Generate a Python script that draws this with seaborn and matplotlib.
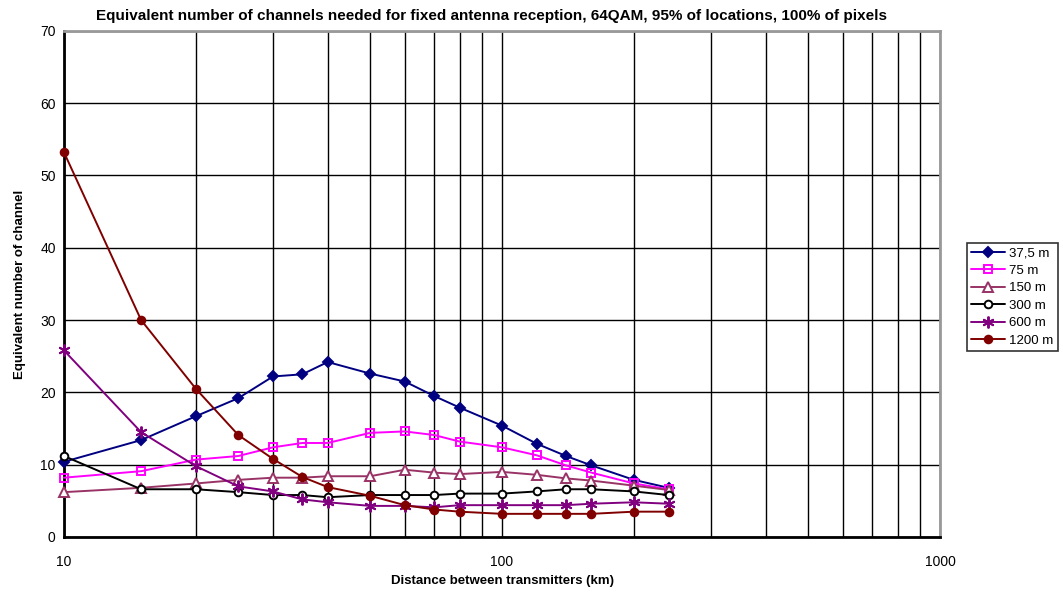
import pandas as pd
import matplotlib
matplotlib.use("Agg")
import matplotlib.pyplot as plt
import matplotlib.ticker as mticker
import seaborn as sns

# distance between transmitters (km)
distance = [10, 15, 20, 25, 30, 35, 40, 50, 60, 70, 80, 100, 120, 140, 160, 200, 240]

# equivalent number of channels, one list per antenna height
h37_5 = [10.4, 13.4, 16.7, 19.2, 22.2, 22.5, 24.2, 22.6, 21.5, 19.5, 17.9, 15.4, 12.9, 11.2, 9.9, 7.9, 6.8]
h75 = [8.2, 9.1, 10.7, 11.2, 12.4, 13.0, 13.0, 14.4, 14.6, 14.1, 13.2, 12.4, 11.3, 9.9, 8.9, 7.4, 6.6]
h150 = [6.2, 6.8, 7.4, 7.9, 8.2, 8.2, 8.4, 8.4, 9.3, 8.9, 8.7, 9.0, 8.6, 8.1, 7.8, 7.1, 6.5]
h300 = [11.2, 6.6, 6.6, 6.2, 5.8, 5.8, 5.5, 5.8, 5.8, 5.8, 6.0, 6.0, 6.3, 6.6, 6.6, 6.3, 5.8]
h600 = [25.8, 14.5, 9.8, 7.0, 6.3, 5.2, 4.8, 4.3, 4.3, 4.1, 4.4, 4.4, 4.4, 4.4, 4.6, 4.8, 4.6]
h1200 = [53.2, 30.0, 20.5, 14.1, 10.8, 8.3, 6.9, 5.7, 4.4, 3.8, 3.5, 3.2, 3.2, 3.2, 3.2, 3.5, 3.5]

labels = ["37,5 m", "75 m", "150 m", "300 m", "600 m", "1200 m"]
values = [h37_5, h75, h150, h300, h600, h1200]

df = pd.DataFrame({lab: v for lab, v in zip(labels, values)})
df["Distance"] = distance
long_df = df.melt(id_vars="Distance", var_name="Height", value_name="Channels")

sns.set_style("white")
plt.rcParams["font.family"] = ["Liberation Sans", "DejaVu Sans"]
plt.rcParams["text.color"] = "black"
plt.rcParams["axes.labelcolor"] = "black"
plt.rcParams["xtick.color"] = "black"
plt.rcParams["ytick.color"] = "black"

# colour, marker, face colour, size
styles = {
    "37,5 m": ("#000080", "D", "#000080", 5.5),
    "75 m": ("#ff00ff", "s", "none", 5.5),
    "150 m": ("#993366", "^", "white", 6.5),
    "300 m": ("#000000", "o", "white", 5.5),
    "600 m": ("#800080", (6, 2, 0), "#800080", 8.5),
    "1200 m": ("#800000", "o", "#800000", 5.5),
}

fig = plt.figure(figsize=(10.63, 5.94), dpi=100)
ax = fig.add_axes([0.0602, 0.096, 0.8241, 0.852])

for lab in labels:
    col, mk, mfc, ms = styles[lab]
    sub = long_df[long_df["Height"] == lab]
    sns.lineplot(data=sub, x="Distance", y="Channels", ax=ax, color=col,
                 marker=mk, markerfacecolor=mfc, markeredgecolor=col,
                 markersize=ms, markeredgewidth=1.4, linewidth=1.4, label=lab,
                 errorbar=None, sort=False, clip_on=False, zorder=3)

ax.set_xscale("log")
ax.set_xlim(10, 1000)
ax.set_ylim(0, 70)
ax.set_yticks(range(0, 71, 10))
ax.yaxis.set_minor_locator(mticker.MultipleLocator(1))
ax.xaxis.set_major_locator(mticker.FixedLocator([10, 100, 1000]))
ax.xaxis.set_major_formatter(mticker.FixedFormatter(["10", "100", "1000"]))
ax.xaxis.set_minor_locator(mticker.LogLocator(base=10, subs=range(2, 10)))
ax.xaxis.set_minor_formatter(mticker.NullFormatter())

ax.grid(True, which="major", axis="y", color="black", linewidth=1)
ax.grid(True, which="both", axis="x", color="black", linewidth=1)
ax.set_axisbelow(True)

ax.tick_params(axis="y", which="major", direction="in", length=5, width=1.5, labelsize=10, pad=6)
ax.tick_params(axis="y", which="minor", direction="in", length=4, width=1.2)
ax.tick_params(axis="x", which="major", direction="out", length=5, width=1, labelsize=10, pad=8)
ax.tick_params(axis="x", which="minor", length=0)

for side in ["left", "bottom"]:
    ax.spines[side].set_color("black")
    ax.spines[side].set_linewidth(2)
for side in ["top", "right"]:
    ax.spines[side].set_color("#999999")
    ax.spines[side].set_linewidth(2)

ax.set_title("Equivalent number of channels needed for fixed antenna reception, 64QAM, 95% of locations, 100% of pixels",
             fontsize=11, fontweight="bold", pad=8, x=0.488)
ax.set_xlabel("Distance between transmitters (km)", fontsize=9.5, fontweight="bold", labelpad=4)
ax.set_ylabel("Equivalent number of channel", fontsize=9.5, fontweight="bold", labelpad=10)

leg = ax.legend(loc="center left", bbox_to_anchor=(1.031, 0.474), frameon=True, fancybox=False,
                edgecolor="black", fontsize=9.5, handlelength=2.6, handletextpad=0.3,
                borderpad=0.3, labelspacing=0.4, borderaxespad=0)
leg.get_frame().set_linewidth(1.2)

fig.savefig("out.png", dpi=100)
